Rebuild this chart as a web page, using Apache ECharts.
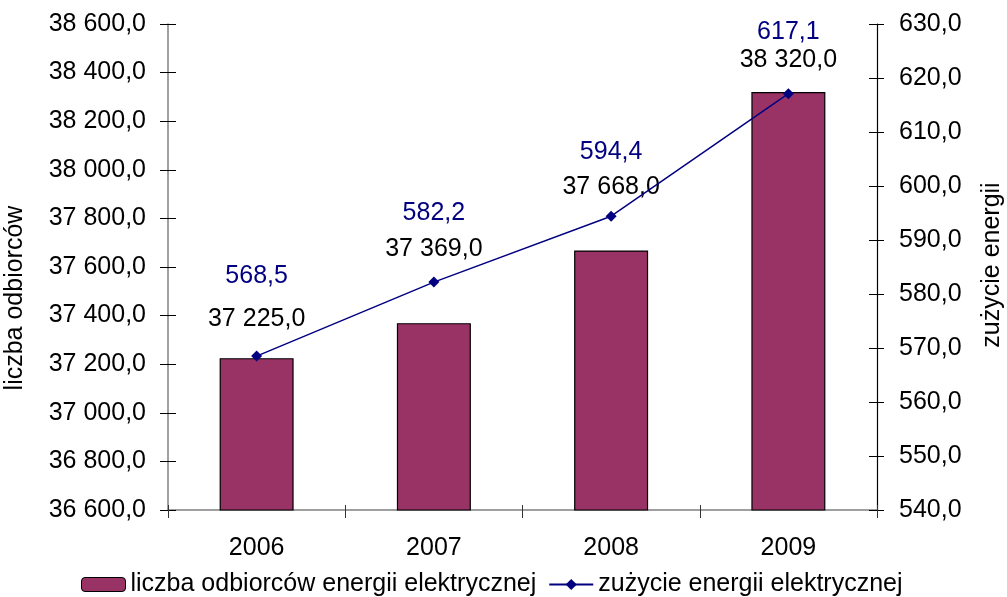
<!DOCTYPE html>
<html>
<head>
<meta charset="utf-8">
<script src="https://cdn.jsdelivr.net/npm/echarts@6/dist/echarts.min.js"></script>
<style>
  html, body { margin: 0; padding: 0; background: #fff; }
  #myChart { width: 1007px; height: 597px; }
</style>
</head>
<body>
<div id="myChart"></div>
<script>
// dane
const years = ['2006', '2007', '2008', '2009'];
const odbiorcy = [37225, 37369, 37668, 38320];   // liczba odbiorców energii elektrycznej
const zuzycie = [568.5, 582.2, 594.4, 617.1];     // zużycie energii elektrycznej
const leftTicks = { min: 36600, max: 38600, step: 200 };
const rightTicks = { min: 540, max: 630, step: 10 };

// przesunięcia etykiet (jak w oryginale, ręcznie ustawione)
const barLabelShift = [-27, -62, -51, -19];
const lineLabelShift = [-62, -51, -46, -44];

const FONT = 'Liberation Sans, Arial, sans-serif';

// 38 600,0
function fmt (v) {
  let s = v.toFixed(1).split('.');
  let int = s[0].replace(/\B(?=(\d{3})+(?!\d))/g, ' ');
  return int + ',' + s[1];
}

let myChart = echarts.init(document.getElementById('myChart'));

let barData = odbiorcy.map((v, i) => ({
  value: v,
  label: { offset: [0, barLabelShift[i]] }
}));
let lineData = zuzycie.map((v, i) => ({
  value: v,
  label: { offset: [0, lineLabelShift[i]] }
}));

let option = {
  animation: false,
  backgroundColor: '#fff',
  textStyle: { fontFamily: FONT },
  grid: { left: 168, right: 130, top: 24, bottom: 87 },
  legend: {
    left: 76,
    top: 567,
    itemWidth: 44,
    itemHeight: 14,
    itemGap: 12,
    textStyle: { fontSize: 25, color: '#000', fontFamily: FONT },
    data: [
      { name: 'liczba odbiorców energii elektrycznej', itemStyle: { borderColor: '#000', borderWidth: 1 } },
      { name: 'zużycie energii elektrycznej' }
    ]
  },
  graphic: [
    {
      type: 'text', x: 15, y: 298, rotation: Math.PI / 2,
      style: { text: 'liczba odbiorców', fontSize: 25, fontFamily: FONT, fill: '#000', align: 'center', verticalAlign: 'middle' }
    },
    {
      type: 'text', x: 992, y: 265, rotation: Math.PI / 2,
      style: { text: 'zużycie energii', fontSize: 25, fontFamily: FONT, fill: '#000', align: 'center', verticalAlign: 'middle' }
    }
  ],
  xAxis: [
    {
      type: 'category',
      data: years,
      axisLine: { lineStyle: { color: '#808080', width: 1.5 } },
      axisTick: { show: true, length: 8, lineStyle: { color: '#333' } },
      axisLabel: { fontSize: 25, color: '#000', margin: 26, fontFamily: FONT }
    },
    {
      // ticks od środka
      type: 'category',
      data: years,
      position: 'bottom',
      axisLine: { show: false },
      axisTick: { show: true, inside: true, length: 5, lineStyle: { color: '#333' } },
      axisLabel: { show: false }
    }
  ],
  yAxis: [
    {
      type: 'value',
      position: 'left',
      min: leftTicks.min,
      max: leftTicks.max,
      interval: leftTicks.step,
      splitLine: { show: false },
      axisLine: { show: true, lineStyle: { color: '#808080', width: 1.5 } },
      axisTick: { show: true, length: 8, lineStyle: { color: '#000' } },
      axisLabel: { fontSize: 25, color: '#000', margin: 22, fontFamily: FONT, formatter: fmt }
    },
    {
      type: 'value',
      position: 'right',
      min: rightTicks.min,
      max: rightTicks.max,
      interval: rightTicks.step,
      splitLine: { show: false },
      axisLine: { show: true, lineStyle: { color: '#000', width: 1.2 } },
      axisTick: { show: true, length: 7, lineStyle: { color: '#000' } },
      axisLabel: { fontSize: 25, color: '#000', margin: 22, fontFamily: FONT, formatter: fmt }
    },
    {
      type: 'value',
      position: 'left',
      min: leftTicks.min,
      max: leftTicks.max,
      interval: leftTicks.step,
      splitLine: { show: false },
      axisLine: { show: false },
      axisTick: { show: true, inside: true, length: 8, lineStyle: { color: '#000' } },
      axisLabel: { show: false }
    },
    {
      type: 'value',
      position: 'right',
      min: rightTicks.min,
      max: rightTicks.max,
      interval: rightTicks.step,
      splitLine: { show: false },
      axisLine: { show: false },
      axisTick: { show: true, inside: true, length: 8, lineStyle: { color: '#000' } },
      axisLabel: { show: false }
    }
  ],
  series: [
    {
      name: 'liczba odbiorców energii elektrycznej',
      type: 'bar',
      yAxisIndex: 0,
      barWidth: 74,
      data: barData,
      itemStyle: { color: '#993366', borderColor: '#000', borderWidth: 1.2 },
      label: {
        show: true,
        position: 'top',
        distance: 0,
        fontSize: 25,
        color: '#000',
        fontFamily: FONT,
        formatter: (p) => fmt(p.value)
      }
    },
    {
      name: 'zużycie energii elektrycznej',
      type: 'line',
      yAxisIndex: 1,
      data: lineData,
      symbol: 'diamond',
      symbolSize: 11,
      color: '#000080',
      lineStyle: { color: '#000080', width: 1.5 },
      itemStyle: { color: '#000080' },
      z: 5,
      label: {
        show: true,
        position: 'top',
        distance: 0,
        fontSize: 25,
        color: '#000080',
        fontFamily: FONT,
        formatter: (p) => fmt(p.value)
      }
    }
  ]
};

myChart.setOption(option);
</script>
</body>
</html>
